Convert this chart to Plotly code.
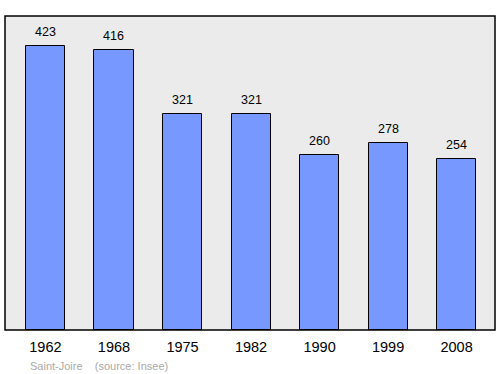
import plotly.graph_objects as go

years = ["1962", "1968", "1975", "1982", "1990", "1999", "2008"]
population = [423, 416, 321, 321, 260, 278, 254]
positions = list(range(len(years)))

fig = go.Figure()
fig.add_trace(go.Bar(
    x=positions, y=population, width=0.57,
    marker=dict(color="#7799ff", line=dict(color="#000000", width=1)),
    hoverinfo="skip",
))
for xi, v in zip(positions, population):
    fig.add_annotation(x=xi, y=v, text=str(v), showarrow=False, yanchor="bottom",
                       yshift=5, font=dict(family="Liberation Sans, Arial", size=12.5, color="#000"))

fig.add_annotation(xref="paper", yref="paper", x=0.046, y=-0.088, xanchor="left", yanchor="top",
                   text="Saint-Joire &nbsp;&nbsp;&nbsp;(source: Insee)", showarrow=False,
                   font=dict(family="Liberation Sans, Arial", size=11, color="#aaaaaa"))

fig.update_layout(
    width=500, height=374, margin=dict(l=5, r=5, t=16, b=44),
    paper_bgcolor="#ffffff", plot_bgcolor="#ebebeb", showlegend=False,
    bargap=0,
    xaxis=dict(range=[-0.59, 6.56], tickvals=positions, ticktext=years, showgrid=False,
               zeroline=False, ticks="outside", ticklen=4, tickcolor="rgba(0,0,0,0)",
               tickfont=dict(family="Liberation Sans, Arial", size=14.5, color="#000"),
               showline=False, fixedrange=True),
    yaxis=dict(range=[0, 467], showgrid=False, zeroline=False, showticklabels=False,
               showline=False, fixedrange=True),
    shapes=[dict(type="rect", xref="paper", yref="paper", x0=0, y0=0, x1=1, y1=1,
                 line=dict(color="#000000", width=1.5), fillcolor="rgba(0,0,0,0)", layer="above")],
)
fig.write_html("out.html")
